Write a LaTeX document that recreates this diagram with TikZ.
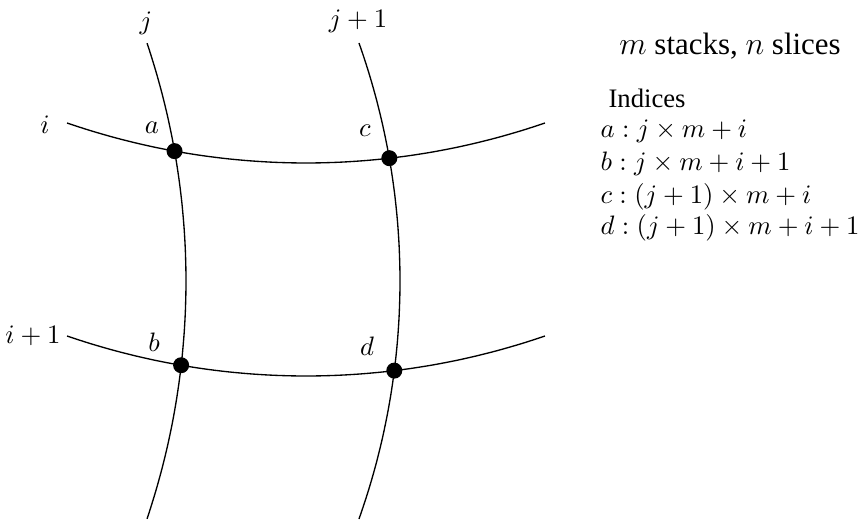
\documentclass[tikz,border=0pt]{standalone}
\usepackage[no-math]{fontspec}
\setmainfont{Liberation Serif}
\usetikzlibrary{intersections}
\begin{document}
\begin{tikzpicture}[x=0.375pt,y=-0.375pt,
  curve/.style={line width=0.5pt},
  dot/.style={circle,fill=black,inner sep=0pt,minimum size=6pt},
  lbl/.style={inner sep=0pt},
  formula/.style={anchor=base west,inner sep=0pt}]
\useasboundingbox (0,0) rectangle (859,520);
% curves
\draw[curve,name path=vj] plot[domain=-18.6:18.6,samples=60,smooth] ({-559.7+745.7*cos(\x)},{281+745.7*sin(\x)});
\draw[curve,name path=vjj] plot[domain=-19.55:19.55,samples=60,smooth] ({-311.3+711.3*cos(\x)},{281+711.3*sin(\x)});
\draw[curve,name path=hi] plot[domain=-19:19,samples=60,smooth] ({306+734*sin(\x)},{-571+734*cos(\x)});
\draw[curve,name path=hii] plot[domain=-19:19,samples=60,smooth] ({306+734*sin(\x)},{-358+734*cos(\x)});
% intersections
\path[name intersections={of=vj and hi,by=ia}];
\path[name intersections={of=vj and hii,by=ib}];
\path[name intersections={of=vjj and hi,by=ic}];
\path[name intersections={of=vjj and hii,by=id}];
\node[dot] (a) at (ia) {};
\node[dot] (b) at (ib) {};
\node[dot] (c) at (ic) {};
\node[dot] (d) at (id) {};
% labels
\node[lbl] (lj) at (146,23) {$j$};
\node[lbl] (ljj) at (358,21) {$j+1$};
\node[lbl] (li) at (45,125) {$i$};
\node[lbl] (lii) at (33,336) {$i+1$};
\node[lbl] (la) at (152,128) {$a$};
\node[lbl] (lb) at (154,342) {$b$};
\node[lbl] (lc) at (365,131) {$c$};
\node[lbl] (ld) at (367,346) {$d$};
% legend
\node[lbl,anchor=base,font=\fontsize{11.6}{14}\selectfont] (title) at (730,55) {$m$ stacks, $n$ slices};
\node[formula] (idx) at (608,107) {Indices};
\node[formula] (fa) at (600,138) {$a: j\times m+i$};
\node[formula] (fb) at (600,171) {$b: j\times m+i+1$};
\node[formula] (fc) at (600,203) {$c: (j+1)\times m+i$};
\node[formula] (fd) at (600,234) {$d: (j+1)\times m+i+1$};
\end{tikzpicture}
\end{document}
